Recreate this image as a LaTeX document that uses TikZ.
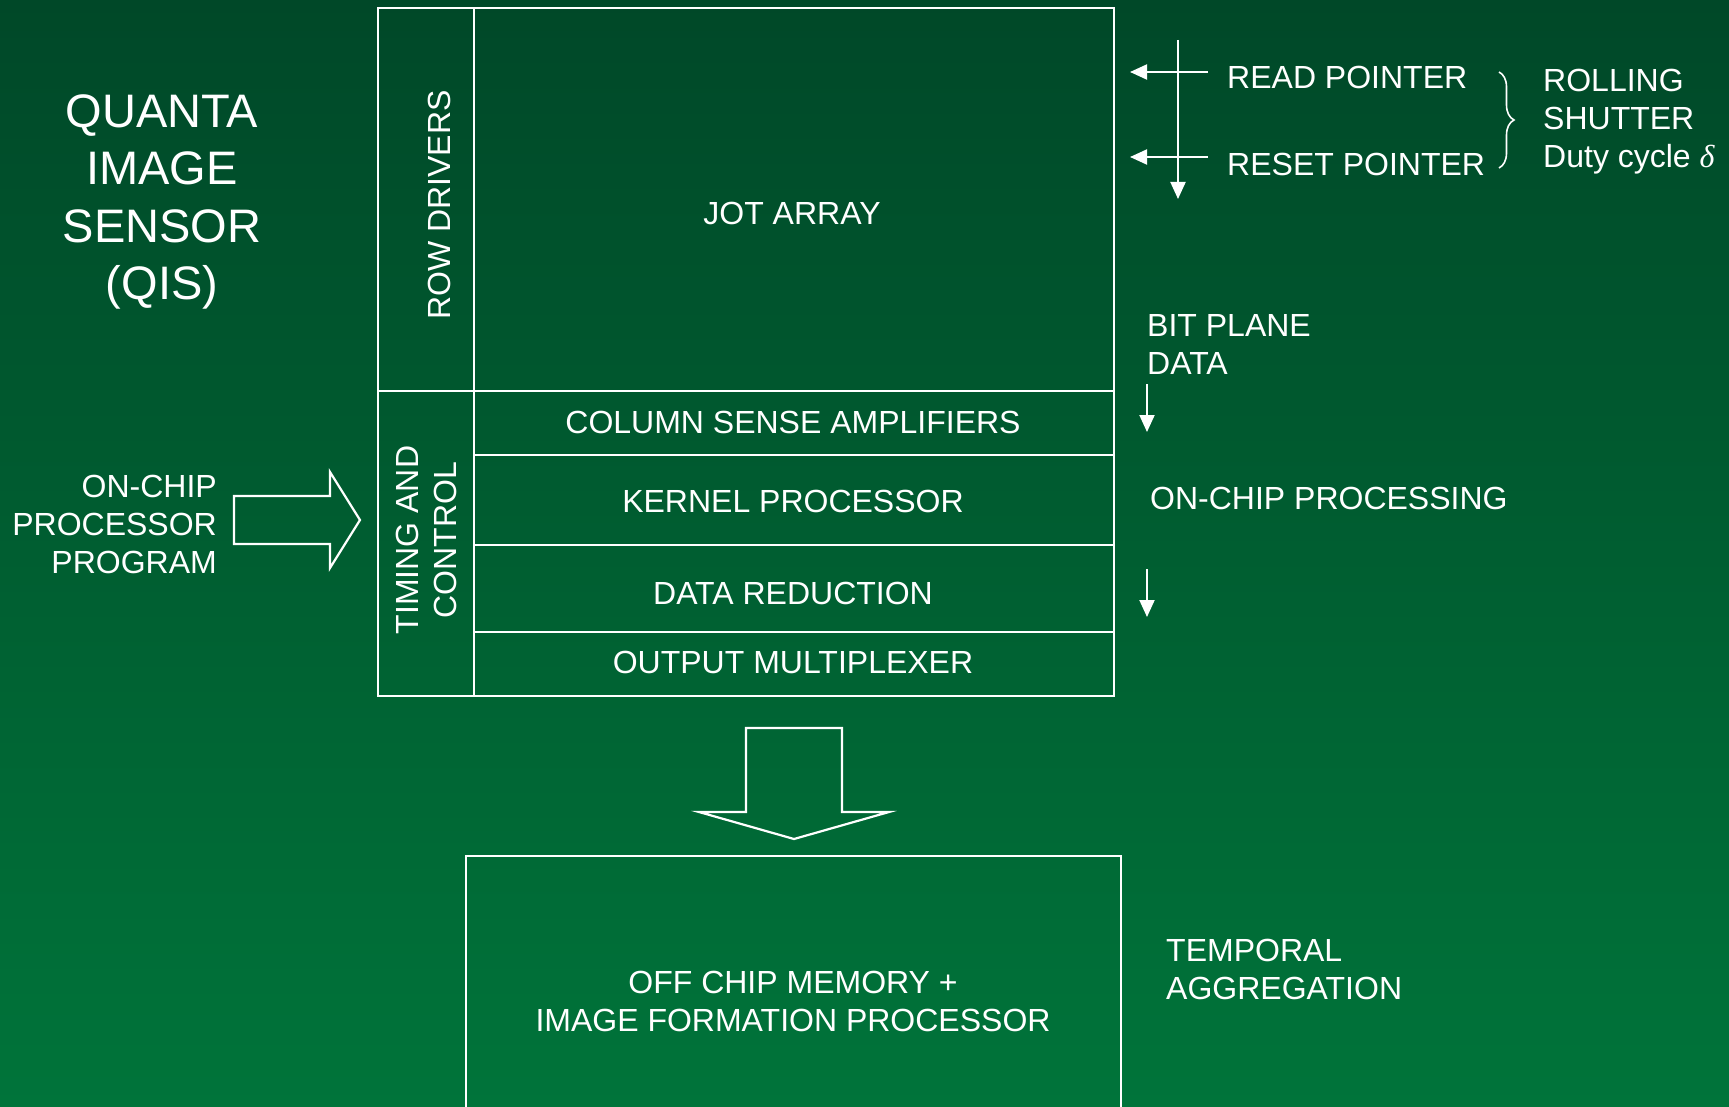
\documentclass[tikz,border=0pt]{standalone}
\usepackage{fontspec}
\setmainfont{Liberation Sans}
\newfontfamily\greekserif{Liberation Serif}
\usetikzlibrary{arrows.meta,decorations.pathreplacing}
\definecolor{bgtop}{RGB}{0,72,40}
\definecolor{bgbot}{RGB}{0,116,58}
\begin{document}
\begin{tikzpicture}[x=1pt,y=-1pt,
  cell/.style={draw=white, line width=2.2pt, inner sep=0pt, outer sep=0pt, anchor=north west},
  lbl/.style={text=white, inner sep=0pt, font=\fontsize{32}{38}\selectfont},
  ttl/.style={text=white, inner sep=0pt, font=\fontsize{47}{57.4}\selectfont, align=center},
  ptr/.style={draw=white, line width=2pt, -{Triangle[length=17pt,width=15pt]}},
  blockarrow/.style={draw=white, line width=2.2pt, line join=miter}
]
\useasboundingbox (0,0) rectangle (1729,1107);
\shade[top color=bgtop, bottom color=bgbot] (0,0) rectangle (1729,1107);

% chip cells
\node[cell, minimum width=96pt, minimum height=383pt] (rowdrv) at (378,8) {};
\node[cell, minimum width=640pt, minimum height=383pt] (jot) at (474,8) {};
\node[cell, minimum width=96pt, minimum height=305pt] (timing) at (378,391) {};
\node[cell, minimum width=640pt, minimum height=64pt] (colsense) at (474,391) {};
\node[cell, minimum width=640pt, minimum height=90pt] (kernel) at (474,455) {};
\node[cell, minimum width=640pt, minimum height=87pt] (datared) at (474,545) {};
\node[cell, minimum width=640pt, minimum height=64pt] (outmux) at (474,632) {};
\node[cell, minimum width=655pt, minimum height=300pt] (mem) at (466,856) {};

% cell labels
\node[lbl, rotate=90] (trd) at (439,205) {ROW DRIVERS};
\node[lbl] (tjot) at (792,213) {JOT ARRAY};
\node[lbl, rotate=90, align=center] (ttc) at (426,540) {TIMING AND\\CONTROL};
\node[lbl] (tcs) at (793,422) {COLUMN SENSE AMPLIFIERS};
\node[lbl] (tkp) at (793,501) {KERNEL PROCESSOR};
\node[lbl] (tdr) at (793,593) {DATA REDUCTION};
\node[lbl] (tom) at (793,662) {OUTPUT MULTIPLEXER};
\node[lbl, align=center] (tmem) at (793,1001) {OFF CHIP MEMORY +\\IMAGE FORMATION PROCESSOR};

% left texts
\node[ttl] (tqis) at (162,202) {QUANTA\\IMAGE\\SENSOR\\(QIS)};
\node[lbl, align=right, anchor=east] (tocp) at (217,524) {ON-CHIP\\PROCESSOR\\PROGRAM};

% block arrows
\draw[blockarrow] (234,496) -- (330,496) -- (330,472) -- (360,520) -- (330,568) -- (330,544) -- (234,544) -- cycle;
\draw[blockarrow] (746,728) -- (842,728) -- (842,812) -- (889,812) -- (794,839) -- (699,812) -- (746,812) -- cycle;

% pointers
\coordinate (vtop) at (1178,40);
\coordinate (vbot) at (1178,199);
\draw[ptr] (vtop) -- (vbot);
\coordinate (rdA) at (1208,72);
\coordinate (rdB) at (1130,72);
\coordinate (rsA) at (1208,157);
\coordinate (rsB) at (1130,157);
\draw[ptr] (rdA) -- (rdB);
\draw[ptr] (rsA) -- (rsB);
\node[lbl, anchor=west] (tread) at (1227,77.5) {READ POINTER};
\node[lbl, anchor=west] (treset) at (1227,164) {RESET POINTER};
\draw[draw=white, line width=1.6pt, decorate, decoration={brace, amplitude=15pt}] (1499,72) -- (1499,168);
\node[lbl, anchor=west, align=left] (troll) at (1543,122) {ROLLING\\SHUTTER\\Duty cycle {\greekserif\itshape δ}};

% right texts
\node[lbl, anchor=west, align=left] (tbit) at (1147,344) {BIT PLANE\\DATA};
\coordinate (a1s) at (1147,384);
\coordinate (a1e) at (1147,432);
\draw[ptr] (a1s) -- (a1e);
\node[lbl, anchor=west] (tproc) at (1150,498) {ON-CHIP PROCESSING};
\coordinate (a2s) at (1147,569);
\coordinate (a2e) at (1147,617);
\draw[ptr] (a2s) -- (a2e);
\node[lbl, anchor=west, align=left] (ttemp) at (1166,969) {TEMPORAL\\AGGREGATION};
\end{tikzpicture}
\end{document}
